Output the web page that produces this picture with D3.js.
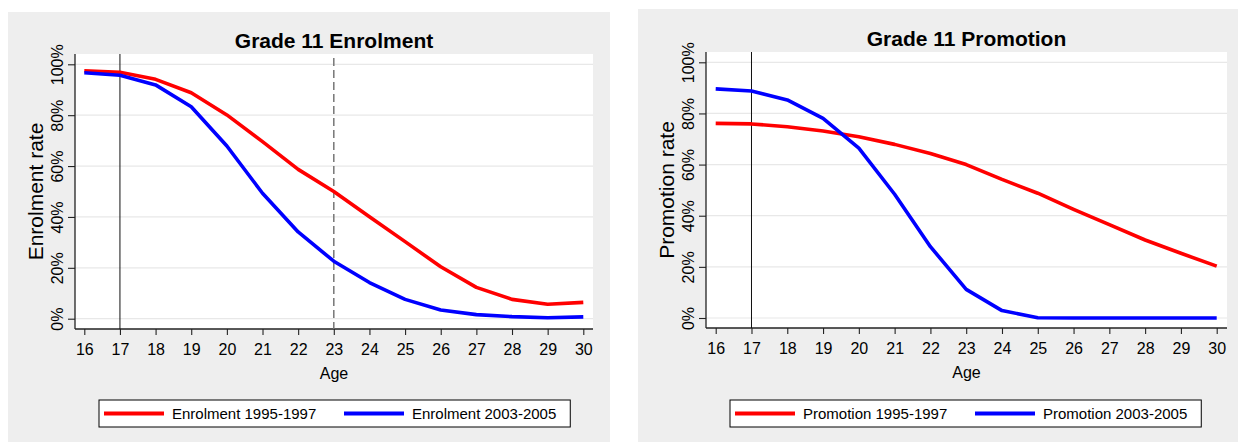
<!DOCTYPE html>
<html>
<head>
<meta charset="utf-8">
<script src="https://cdn.jsdelivr.net/npm/d3@7"></script>
<style>
  html, body { margin: 0; padding: 0; background: #ffffff; }
  svg { display: block; }
  text { font-family: "Liberation Sans", Arial, Helvetica, sans-serif; fill: #000; }
</style>
</head>
<body>
<svg id="chart" width="1238" height="442"></svg>
<script>
// ---------- data ----------
const ages = [16, 17, 18, 19, 20, 21, 22, 23, 24, 25, 26, 27, 28, 29, 30];
const xTickLabels = ["16","17","18","19","20","21","22","23","24","25","26","27","28","29","30"];
const yTicks = [0, 20, 40, 60, 80, 100];
const yTickLabels = ["0%", "20%", "40%", "60%", "80%", "100%"];

const enrolment9597 = [97.4, 96.9, 94.1, 88.8, 80.1, 69.6, 58.7, 50.0, 40.1, 30.3, 20.4, 12.3, 7.6, 5.7, 6.4];
const enrolment0305 = [96.7, 95.7, 91.9, 83.3, 67.9, 49.3, 34.1, 22.6, 14.2, 7.6, 3.4, 1.6, 0.8, 0.4, 0.7];
const promotion9597 = [76.1, 75.9, 74.8, 73.1, 70.9, 67.9, 64.3, 60.0, 54.2, 48.8, 42.5, 36.5, 30.5, 25.3, 20.3];
const promotion0305 = [89.6, 88.8, 85.3, 78.1, 66.4, 48.4, 27.9, 11.2, 2.9, 0.1, 0.0, 0.0, 0.0, 0.0, 0.0];

const seriesNames = {
  enrol: ["Enrolment 1995-1997", "Enrolment 2003-2005"],
  promo: ["Promotion 1995-1997", "Promotion 2003-2005"]
};
const seriesColors = ["#ff0000", "#0000ff"];

// ---------- layout ----------
const panels = [
  {
    title: "Grade 11 Enrolment", yTitle: "Enrolment rate",
    series: [enrolment9597, enrolment0305], names: seriesNames.enrol,
    bg: {x: 8, y: 12, w: 602, h: 430},
    plot: {left: 75, right: 593, top: 54, bottom: 329},
    xr: [84.3, 583.3], yr: [318.7, 64.3],
    solidAt: 17, dashedAt: 23,
    legend: {x: 99, y: 400, h: 27}
  },
  {
    title: "Grade 11 Promotion", yTitle: "Promotion rate",
    series: [promotion9597, promotion0305], names: seriesNames.promo,
    bg: {x: 638, y: 9, w: 602, h: 433},
    plot: {left: 706, right: 1227, top: 52, bottom: 328},
    xr: [715.7, 1216.7], yr: [318, 62.3],
    solidAt: 17, dashedAt: null,
    legend: {x: 730, y: 400, h: 27}
  }
];

const svg = d3.select("#chart");

panels.forEach(p => {
  const g = svg.append("g");
  // panel background
  g.append("rect").attr("x", p.bg.x).attr("y", p.bg.y)
    .attr("width", p.bg.w).attr("height", p.bg.h).attr("fill", "#eeeeee");
  // plot region
  g.append("rect").attr("x", p.plot.left).attr("y", p.plot.top)
    .attr("width", p.plot.right - p.plot.left).attr("height", p.plot.bottom - p.plot.top)
    .attr("fill", "#ffffff");

  const x = d3.scaleLinear().domain([16, 30]).range(p.xr);
  const y = d3.scaleLinear().domain([0, 100]).range(p.yr);

  // gridlines
  g.append("g").selectAll("line").data(yTicks).join("line")
    .attr("x1", p.plot.left).attr("x2", p.plot.right)
    .attr("y1", d => y(d)).attr("y2", d => y(d))
    .attr("stroke", "#e8e8e8").attr("stroke-width", 1.2);

  // x axis
  const xAxis = d3.axisBottom(x).tickValues(ages)
    .tickFormat((d, i) => xTickLabels[i]).tickSizeInner(6).tickSizeOuter(0).tickPadding(4);
  const gx = g.append("g").attr("transform", `translate(0,${p.plot.bottom})`).call(xAxis);
  gx.select(".domain").attr("d", `M${p.plot.left},0H${p.plot.right}`).attr("stroke", "#222").attr("stroke-width", 1.3);
  gx.selectAll(".tick line").attr("stroke", "#222").attr("stroke-width", 1.1);
  gx.selectAll(".tick text").attr("font-size", 16).attr("font-family", "Liberation Sans, Arial, sans-serif")
    .attr("fill", "#000").attr("y", 0).attr("dy", null)
    .attr("transform", "translate(0,20)").attr("dominant-baseline", "central");

  // y axis
  const yAxis = d3.axisLeft(y).tickValues(yTicks)
    .tickFormat((d, i) => yTickLabels[i]).tickSizeInner(7).tickSizeOuter(0);
  const gy = g.append("g").attr("transform", `translate(${p.plot.left},0)`).call(yAxis);
  gy.select(".domain").attr("d", `M0,${p.plot.top}V${p.plot.bottom}`).attr("stroke", "#222").attr("stroke-width", 1.3);
  gy.selectAll(".tick line").attr("stroke", "#222").attr("stroke-width", 1.1);
  gy.selectAll(".tick text").attr("font-size", 16).attr("font-family", "Liberation Sans, Arial, sans-serif")
    .attr("fill", "#000").attr("x", null).attr("dy", null)
    .attr("text-anchor", "middle")
    .attr("transform", "translate(-18,0) rotate(-90)")
    .attr("dy", "0.35em");

  // reference lines
  g.append("line").attr("x1", x(p.solidAt)).attr("x2", x(p.solidAt))
    .attr("y1", p.plot.top).attr("y2", p.plot.bottom)
    .attr("stroke", "#111").attr("stroke-width", 1);
  if (p.dashedAt !== null) {
    g.append("line").attr("x1", x(p.dashedAt)).attr("x2", x(p.dashedAt))
      .attr("y1", p.plot.top + 4).attr("y2", p.plot.bottom)
      .attr("stroke", "#777").attr("stroke-width", 1.5).attr("stroke-dasharray", "8,4");
  }

  // series lines
  const line = d3.line().x((d, i) => x(ages[i])).y(d => y(d));
  p.series.forEach((s, k) => {
    g.append("path").datum(s).attr("d", line)
      .attr("fill", "none").attr("stroke", seriesColors[k])
      .attr("stroke-width", 3.6).attr("stroke-linejoin", "round");
  });

  const cx = (p.plot.left + p.plot.right) / 2;
  // title
  g.append("text").attr("x", cx).attr("y", p.plot.top - 14)
    .attr("text-anchor", "middle").attr("dominant-baseline", "central")
    .attr("font-size", 21).attr("font-weight", "bold").text(p.title);
  // x title
  g.append("text").attr("x", cx).attr("y", p.plot.bottom + 44)
    .attr("text-anchor", "middle").attr("dominant-baseline", "central")
    .attr("font-size", 16).text("Age");
  // y title
  g.append("text")
    .attr("transform", `translate(${p.plot.left - 39},${(p.plot.top + p.plot.bottom) / 2}) rotate(-90)`)
    .attr("text-anchor", "middle").attr("dy", "0.35em")
    .attr("font-size", 21).text(p.yTitle);

  // legend
  const L = p.legend;
  const lg = g.append("g");
  const box = lg.append("rect").attr("x", L.x).attr("y", L.y).attr("height", L.h)
    .attr("fill", "#ffffff").attr("stroke", "#000").attr("stroke-width", 1);
  const offs = [5, 245];
  let endX = L.x;
  p.names.forEach((nm, k) => {
    const sx = L.x + offs[k];
    lg.append("line").attr("x1", sx).attr("x2", sx + 60)
      .attr("y1", L.y + L.h / 2).attr("y2", L.y + L.h / 2)
      .attr("stroke", seriesColors[k]).attr("stroke-width", 4);
    const t = lg.append("text").attr("x", sx + 68).attr("y", L.y + L.h / 2)
      .attr("dominant-baseline", "central").attr("font-size", 15).text(nm);
    endX = sx + 68 + t.node().getComputedTextLength();
  });
  box.attr("width", endX - L.x + 14);
});
</script>
</body>
</html>
